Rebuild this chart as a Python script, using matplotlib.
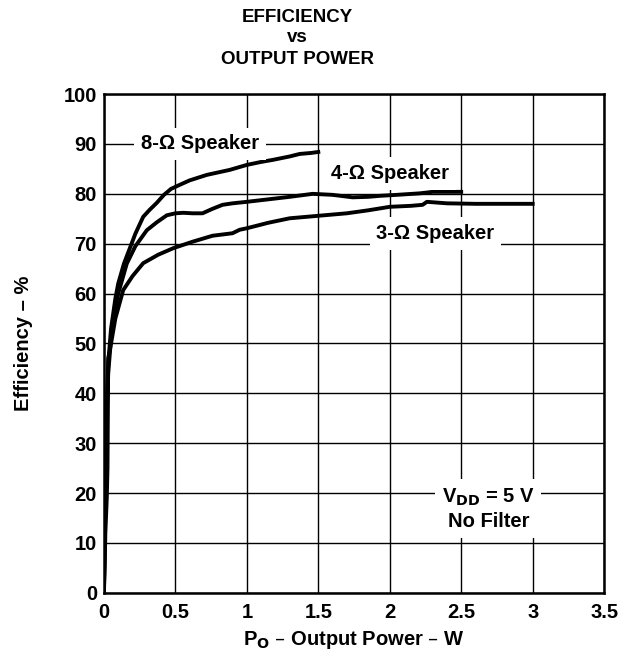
import matplotlib
matplotlib.use("Agg")
import matplotlib.pyplot as plt

plt.rcParams["font.family"] = ["Liberation Sans", "DejaVu Sans"]
plt.rcParams["font.weight"] = "bold"

# 8-ohm speaker
p8 = [0, 0.005, 0.01, 0.02, 0.03, 0.05, 0.08, 0.1, 0.14, 0.18, 0.22, 0.275, 0.32, 0.37,
      0.42, 0.47, 0.53, 0.6, 0.72, 0.8, 0.88, 1.0, 1.1, 1.18, 1.3, 1.37, 1.45, 1.5]
eff8 = [0, 10, 22, 38, 46, 53, 59, 62, 66, 69, 72, 75.4, 76.8, 78.2,
        79.8, 81, 81.8, 82.7, 83.8, 84.3, 84.8, 85.8, 86.4, 86.8, 87.5, 88, 88.2, 88.4]

# 4-ohm speaker
p4 = [0, 0.005, 0.01, 0.02, 0.03, 0.05, 0.08, 0.1, 0.16, 0.22, 0.3, 0.37, 0.44, 0.5,
      0.555, 0.62, 0.69, 0.76, 0.83, 0.9, 1.0, 1.15, 1.3, 1.46, 1.6, 1.74, 1.85, 1.93,
      2.05, 2.21, 2.3, 2.5]
eff4 = [0, 8, 20, 36, 44, 51, 57, 60, 66, 69.5, 72.7, 74.3, 75.7, 76.1,
        76.2, 76.1, 76.1, 77, 77.8, 78.1, 78.4, 78.9, 79.4, 80, 79.8, 79.3, 79.4, 79.6,
        79.8, 80.1, 80.4, 80.4]

# 3-ohm speaker
p3 = [0, 0.005, 0.01, 0.02, 0.025, 0.03, 0.05, 0.08, 0.135, 0.2, 0.275, 0.38, 0.485,
      0.62, 0.76, 0.9, 0.95, 1.0, 1.15, 1.3, 1.5, 1.7, 1.85, 2.0, 2.15, 2.23, 2.26,
      2.4, 2.6, 3.0]
eff3 = [0, 5, 12, 19, 25, 47, 50, 55, 60.7, 63.5, 66.1, 67.8, 69.1,
        70.4, 71.6, 72.1, 72.8, 73.1, 74.2, 75.1, 75.6, 76.1, 76.7, 77.4, 77.6, 77.8, 78.4,
        78.1, 78.0, 78.0]

xticks = [0, 0.5, 1, 1.5, 2, 2.5, 3, 3.5]
xticklabels = ["0", "0.5", "1", "1.5", "2", "2.5", "3", "3.5"]
yticks = list(range(0, 101, 10))

fs = 14.5

fig = plt.figure(figsize=(6.26, 6.58), dpi=100)
ax = fig.add_axes([0.166, 0.099, 0.799, 0.758])

for x, y in [(p8, eff8), (p4, eff4), (p3, eff3)]:
    ax.plot(x, y, color="black", lw=2.8, solid_joinstyle="round", zorder=3)

ax.set_xlim(0, 3.5)
ax.set_ylim(0, 100)
ax.set_xticks(xticks)
ax.set_xticklabels(xticklabels)
ax.set_yticks(yticks)
ax.grid(True, color="black", lw=1.0)
ax.set_axisbelow(True)
ax.tick_params(length=0, labelsize=fs)
ax.tick_params(axis="x", pad=7)
ax.tick_params(axis="y", pad=5)
for s in ax.spines.values():
    s.set_linewidth(1.8)

box = dict(facecolor="white", edgecolor="none", pad=5)
ax.text(0.67, 90, "8-Ω Speaker", ha="center", va="center", fontsize=fs,
        fontweight="bold", bbox=box, zorder=4)
ax.text(2.0, 84.1, "4-Ω Speaker", ha="center", va="center", fontsize=fs,
        fontweight="bold", bbox=box, zorder=4)
ax.text(2.32, 72.1, "3-Ω Speaker", ha="center", va="center", fontsize=fs,
        fontweight="bold", bbox=box, zorder=4)
ax.text(2.69, 16.8, "V$_{\\mathbf{DD}}$ = 5 V\nNo Filter", ha="center", va="center",
        fontsize=fs, fontweight="bold", linespacing=1.25, bbox=box, zorder=4)

ax.set_xlabel("P$_{\\mathbf{O}}$ – Output Power – W", fontsize=fs, fontweight="bold",
              labelpad=5)
ax.set_ylabel("Efficiency – %", fontsize=fs, fontweight="bold", labelpad=22)

fig.text(0.475, 0.974, "EFFICIENCY", ha="center", va="center", fontsize=13.5,
         fontweight="bold")
fig.text(0.475, 0.943, "vs", ha="center", va="center", fontsize=13.5,
         fontweight="bold")
fig.text(0.475, 0.909, "OUTPUT POWER", ha="center", va="center", fontsize=13.5,
         fontweight="bold")

fig.savefig("out.png", dpi=100)
